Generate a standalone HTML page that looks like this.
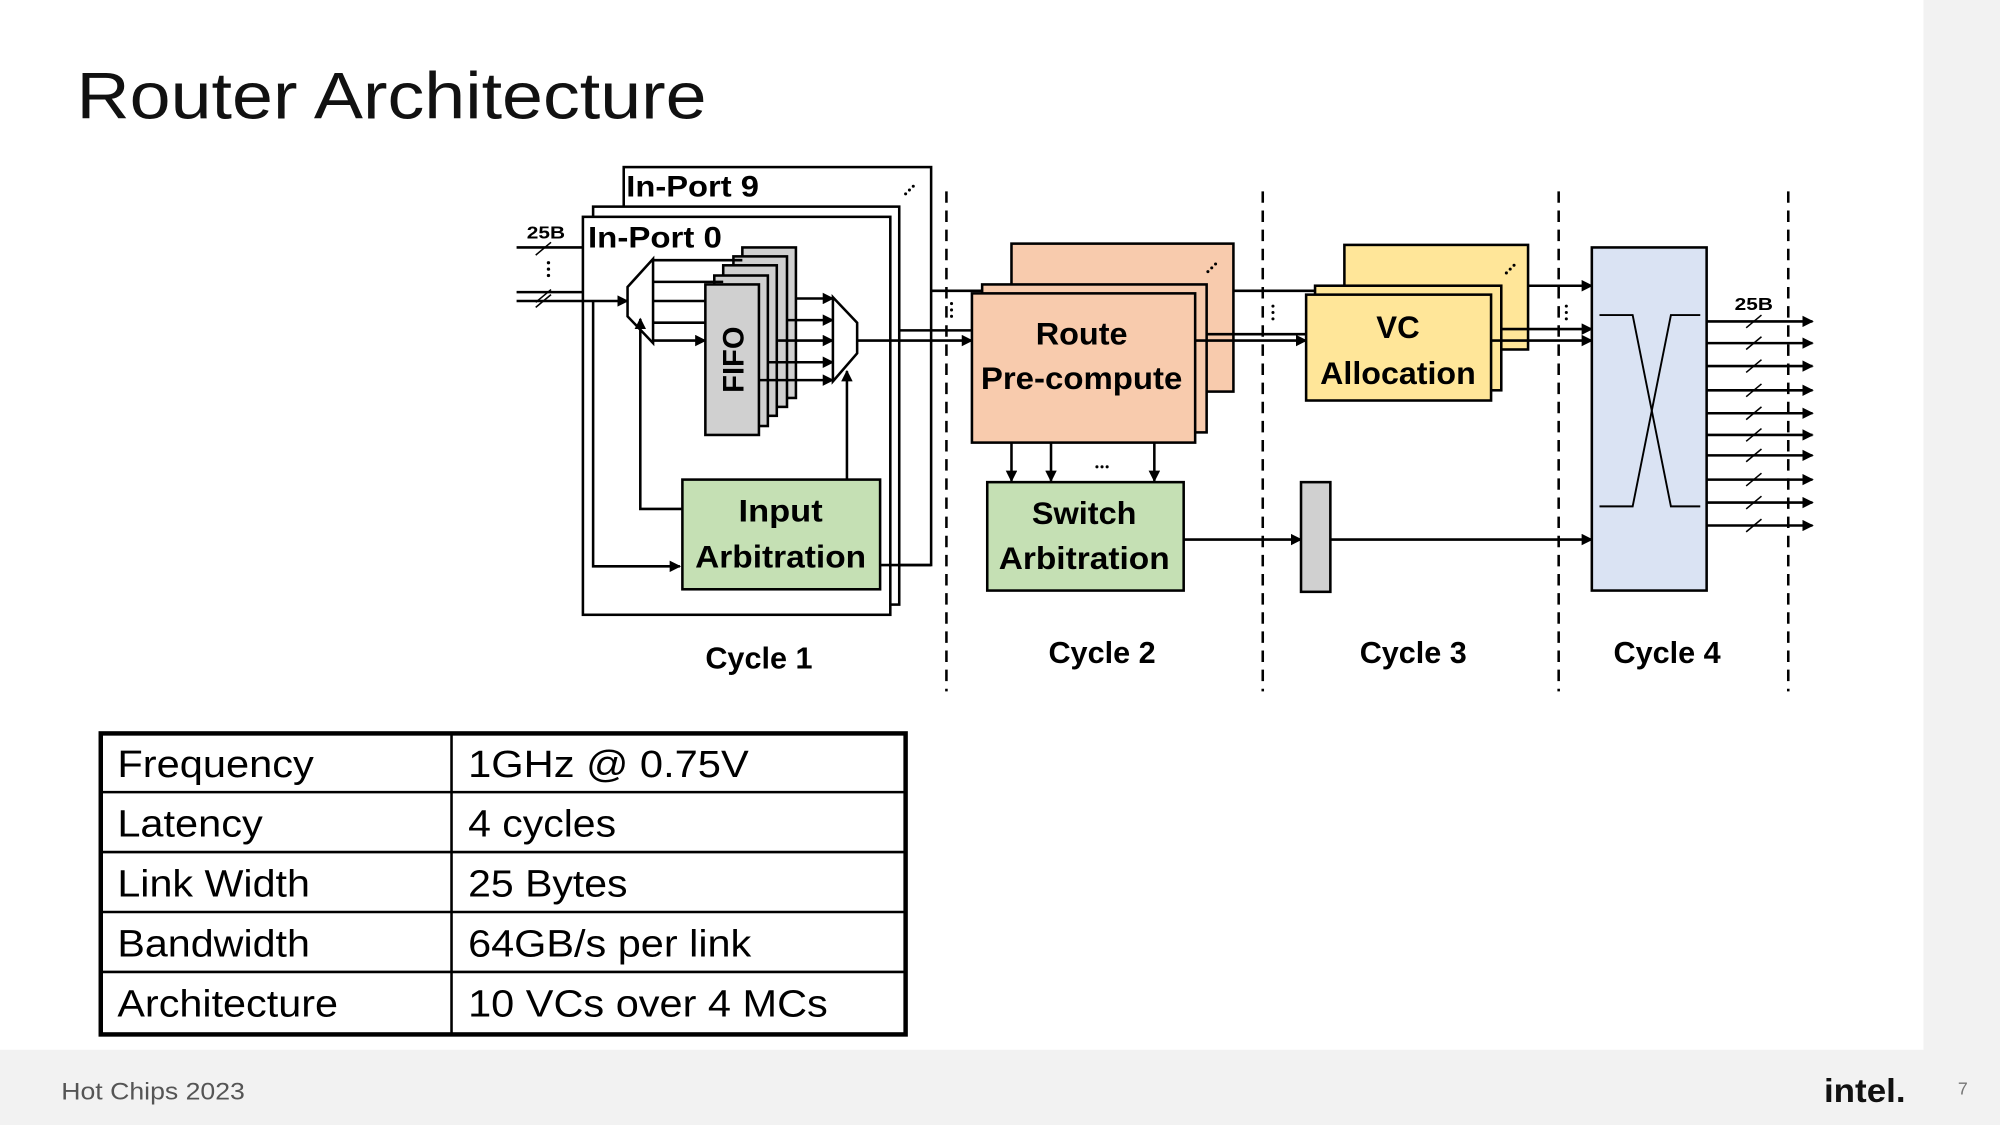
<!DOCTYPE html>
<html><head><meta charset="utf-8"><style>
html,body{margin:0;padding:0;background:#fff;}
svg{display:block;}
text{font-family:"Liberation Sans",sans-serif;}
.b{font-weight:bold;fill:#000;}
</style></head><body>
<svg width="2000" height="1125" viewBox="0 0 1568 882" xmlns="http://www.w3.org/2000/svg">
<defs>
<marker id="a" markerWidth="9" markerHeight="9" refX="8" refY="4.5" orient="auto" markerUnits="userSpaceOnUse"><path d="M0,0 L9,4.5 L0,9 z" fill="#000"/></marker>
</defs>
<rect x="0" y="0" width="1568" height="882" fill="#fff"/>
<rect x="1508" y="0" width="60" height="882" fill="#f2f2f2"/>
<rect x="0" y="823" width="1568" height="59" fill="#f2f2f2"/>
<text x="60" y="93" font-size="52" fill="#111" textLength="494" lengthAdjust="spacingAndGlyphs">Router Architecture</text>
<text x="48" y="862" font-size="19" fill="#555" textLength="144" lengthAdjust="spacingAndGlyphs">Hot Chips 2023</text>
<text x="1430" y="864" font-size="26" font-weight="bold" fill="#111" textLength="64" lengthAdjust="spacingAndGlyphs">intel.</text>
<text x="1535" y="858" font-size="14" fill="#777">7</text>

<g stroke="#000" stroke-width="2" fill="none">
<g stroke-dasharray="9,6">
<line x1="742" y1="150" x2="742" y2="542"/>
<line x1="990" y1="150" x2="990" y2="542"/>
<line x1="1222" y1="150" x2="1222" y2="542"/>
<line x1="1402" y1="150" x2="1402" y2="542"/>
</g>
<rect x="489" y="131" width="241" height="312" fill="#fff"/>
<rect x="465" y="162" width="240" height="312" fill="#fff"/>
<rect x="457" y="170" width="241" height="312" fill="#fff"/>
<line x1="405" y1="194" x2="457" y2="194"/>
<line x1="405" y1="229" x2="457" y2="229"/>
<line x1="405" y1="236" x2="492" y2="236" marker-end="url(#a)"/>
<line x1="420" y1="200" x2="432" y2="190" stroke-width="1.2"/>
<line x1="420" y1="237" x2="432" y2="227" stroke-width="1.2"/>
<line x1="420" y1="241" x2="432" y2="231" stroke-width="1.2"/>
<polyline points="465,236 465,444 533,444" marker-end="url(#a)"/>
<polygon points="492,225 512,203 512,269 492,248" fill="#fff"/>
<polyline points="535,399 502,399 502,250" marker-end="url(#a)"/>
<rect x="582" y="194" width="42" height="118" fill="#d0d0d0"/>
<rect x="575" y="201" width="42" height="118" fill="#d0d0d0"/>
<rect x="567" y="208" width="42" height="118" fill="#d0d0d0"/>
<rect x="560" y="216" width="42" height="118" fill="#d0d0d0"/>
<line x1="512" y1="204" x2="582" y2="204"/>
<line x1="512" y1="221" x2="567" y2="221"/>
<line x1="512" y1="236" x2="553" y2="236"/>
<line x1="512" y1="253" x2="553" y2="253"/>
<line x1="512" y1="267" x2="553" y2="267" marker-end="url(#a)"/>
<rect x="553" y="223" width="42" height="118" fill="#d0d0d0"/>
<line x1="624" y1="234" x2="653" y2="234" marker-end="url(#a)"/>
<line x1="617" y1="251" x2="653" y2="251" marker-end="url(#a)"/>
<line x1="610" y1="267" x2="653" y2="267" marker-end="url(#a)"/>
<line x1="602" y1="284" x2="653" y2="284" marker-end="url(#a)"/>
<line x1="595" y1="298" x2="653" y2="298" marker-end="url(#a)"/>
<polygon points="653,233 672,253 672,277 653,299" fill="#fff"/>
<line x1="664" y1="376" x2="664" y2="291" marker-end="url(#a)"/>
<polyline points="690,443 730,443"/>
<rect x="535" y="376" width="155" height="86" fill="#c5e0b4"/>
<line x1="672" y1="267" x2="762" y2="267" marker-end="url(#a)"/>
<line x1="705" y1="259" x2="762" y2="259"/>
<line x1="730" y1="228" x2="770" y2="228"/>
<rect x="793" y="191" width="174" height="116" fill="#f8cbad"/>
<rect x="770" y="223" width="176" height="116" fill="#f8cbad"/>
<rect x="762" y="230" width="175" height="117" fill="#f8cbad"/>
<line x1="967" y1="228" x2="1031" y2="228"/>
<line x1="946" y1="262" x2="1024" y2="262"/>
<line x1="937" y1="267" x2="1024" y2="267" marker-end="url(#a)"/>
<line x1="793" y1="347" x2="793" y2="377" marker-end="url(#a)"/>
<line x1="824" y1="347" x2="824" y2="377" marker-end="url(#a)"/>
<line x1="905" y1="347" x2="905" y2="377" marker-end="url(#a)"/>
<rect x="774" y="378" width="154" height="85" fill="#c5e0b4"/>
<line x1="928" y1="423" x2="1020" y2="423" marker-end="url(#a)"/>
<rect x="1020" y="378" width="23" height="86" fill="#d0d0d0"/>
<line x1="1043" y1="423" x2="1248" y2="423" marker-end="url(#a)"/>
<rect x="1054" y="192" width="144" height="82" fill="#ffe699"/>
<rect x="1031" y="224" width="146" height="82" fill="#ffe699"/>
<rect x="1024" y="231" width="145" height="83" fill="#ffe699"/>
<line x1="1198" y1="224" x2="1248" y2="224" marker-end="url(#a)"/>
<line x1="1177" y1="258" x2="1248" y2="258" marker-end="url(#a)"/>
<line x1="1169" y1="267" x2="1248" y2="267" marker-end="url(#a)"/>
<rect x="1248" y="194" width="90" height="269" fill="#dae3f3"/>
<g stroke-width="1.5">
<polyline points="1254,247 1280,247 1310,397 1333,397"/>
<polyline points="1333,247 1310,247 1280,397 1254,397"/>
</g>
<g>
<line x1="1338" y1="252" x2="1421" y2="252" marker-end="url(#a)"/>
<line x1="1338" y1="269" x2="1421" y2="269" marker-end="url(#a)"/>
<line x1="1338" y1="287" x2="1421" y2="287" marker-end="url(#a)"/>
<line x1="1338" y1="306" x2="1421" y2="306" marker-end="url(#a)"/>
<line x1="1338" y1="324" x2="1421" y2="324" marker-end="url(#a)"/>
<line x1="1338" y1="341" x2="1421" y2="341" marker-end="url(#a)"/>
<line x1="1338" y1="357" x2="1421" y2="357" marker-end="url(#a)"/>
<line x1="1338" y1="376" x2="1421" y2="376" marker-end="url(#a)"/>
<line x1="1338" y1="394" x2="1421" y2="394" marker-end="url(#a)"/>
<line x1="1338" y1="412" x2="1421" y2="412" marker-end="url(#a)"/>
</g>
<g stroke-width="1.2">
<line x1="1369" y1="257" x2="1381" y2="247"/>
<line x1="1369" y1="274" x2="1381" y2="264"/>
<line x1="1369" y1="292" x2="1381" y2="282"/>
<line x1="1369" y1="311" x2="1381" y2="301"/>
<line x1="1369" y1="329" x2="1381" y2="319"/>
<line x1="1369" y1="346" x2="1381" y2="336"/>
<line x1="1369" y1="362" x2="1381" y2="352"/>
<line x1="1369" y1="381" x2="1381" y2="371"/>
<line x1="1369" y1="399" x2="1381" y2="389"/>
<line x1="1369" y1="417" x2="1381" y2="407"/>
</g>
</g>

<g fill="#000">
<circle cx="430" cy="206" r="1.3"/><circle cx="430" cy="211" r="1.3"/><circle cx="430" cy="216" r="1.3"/>
<circle cx="746" cy="238" r="1.2"/><circle cx="746" cy="243" r="1.2"/><circle cx="746" cy="248" r="1.2"/>
<circle cx="998" cy="240" r="1.2"/><circle cx="998" cy="245" r="1.2"/><circle cx="998" cy="250" r="1.2"/>
<circle cx="1228" cy="240" r="1.2"/><circle cx="1228" cy="245" r="1.2"/><circle cx="1228" cy="250" r="1.2"/>
<circle cx="710" cy="152" r="1.2"/><circle cx="713" cy="149" r="1.2"/><circle cx="716" cy="146" r="1.2"/>
<circle cx="947" cy="213" r="1.2"/><circle cx="950" cy="210" r="1.2"/><circle cx="953" cy="207" r="1.2"/>
<circle cx="1181" cy="214" r="1.2"/><circle cx="1184" cy="211" r="1.2"/><circle cx="1187" cy="208" r="1.2"/>
<circle cx="860" cy="366" r="1.2"/><circle cx="864" cy="366" r="1.2"/><circle cx="868" cy="366" r="1.2"/>
</g>

<text class="b" x="491" y="154" font-size="23" textLength="104" lengthAdjust="spacingAndGlyphs">In-Port 9</text>
<text class="b" x="461" y="194" font-size="23" textLength="105" lengthAdjust="spacingAndGlyphs">In-Port 0</text>
<text class="b" x="413" y="187" font-size="14" textLength="30" lengthAdjust="spacingAndGlyphs">25B</text>
<text class="b" x="1360" y="243" font-size="14" textLength="30" lengthAdjust="spacingAndGlyphs">25B</text>
<text class="b" font-size="23" text-anchor="middle" transform="translate(583,282) rotate(-90)" textLength="52" lengthAdjust="spacingAndGlyphs">FIFO</text>
<g text-anchor="middle" font-size="25">
<text class="b" x="612" y="409" textLength="66" lengthAdjust="spacingAndGlyphs">Input</text>
<text class="b" x="612" y="445" textLength="134" lengthAdjust="spacingAndGlyphs">Arbitration</text>
<text class="b" x="848" y="270" textLength="72" lengthAdjust="spacingAndGlyphs">Route</text>
<text class="b" x="848" y="305" textLength="158" lengthAdjust="spacingAndGlyphs">Pre-compute</text>
<text class="b" x="850" y="411" textLength="82" lengthAdjust="spacingAndGlyphs">Switch</text>
<text class="b" x="850" y="446" textLength="134" lengthAdjust="spacingAndGlyphs">Arbitration</text>
<text class="b" x="1096" y="265" textLength="34" lengthAdjust="spacingAndGlyphs">VC</text>
<text class="b" x="1096" y="301" textLength="122" lengthAdjust="spacingAndGlyphs">Allocation</text>
</g>
<g text-anchor="middle" font-size="24">
<text class="b" x="595" y="524" textLength="84" lengthAdjust="spacingAndGlyphs">Cycle 1</text>
<text class="b" x="864" y="520" textLength="84" lengthAdjust="spacingAndGlyphs">Cycle 2</text>
<text class="b" x="1108" y="520" textLength="84" lengthAdjust="spacingAndGlyphs">Cycle 3</text>
<text class="b" x="1307" y="520" textLength="84" lengthAdjust="spacingAndGlyphs">Cycle 4</text>
</g>

<g stroke="#000" fill="none">
<rect x="79" y="575" width="631" height="236" stroke-width="3.5"/>
<line x1="354" y1="575" x2="354" y2="811" stroke-width="2"/>
<line x1="79" y1="621" x2="710" y2="621" stroke-width="2"/>
<line x1="79" y1="668" x2="710" y2="668" stroke-width="2"/>
<line x1="79" y1="715" x2="710" y2="715" stroke-width="2"/>
<line x1="79" y1="762" x2="710" y2="762" stroke-width="2"/>
</g>
<g font-size="30" fill="#000">
<text x="92" y="609" textLength="154" lengthAdjust="spacingAndGlyphs">Frequency</text><text x="367" y="609" textLength="220" lengthAdjust="spacingAndGlyphs">1GHz @ 0.75V</text>
<text x="92" y="656" textLength="114" lengthAdjust="spacingAndGlyphs">Latency</text><text x="367" y="656" textLength="116" lengthAdjust="spacingAndGlyphs">4 cycles</text>
<text x="92" y="703" textLength="151" lengthAdjust="spacingAndGlyphs">Link Width</text><text x="367" y="703" textLength="125" lengthAdjust="spacingAndGlyphs">25 Bytes</text>
<text x="92" y="750" textLength="151" lengthAdjust="spacingAndGlyphs">Bandwidth</text><text x="367" y="750" textLength="222" lengthAdjust="spacingAndGlyphs">64GB/s per link</text>
<text x="92" y="797" textLength="173" lengthAdjust="spacingAndGlyphs">Architecture</text><text x="367" y="797" textLength="282" lengthAdjust="spacingAndGlyphs">10 VCs over 4 MCs</text>
</g>
</svg>
</body></html>
